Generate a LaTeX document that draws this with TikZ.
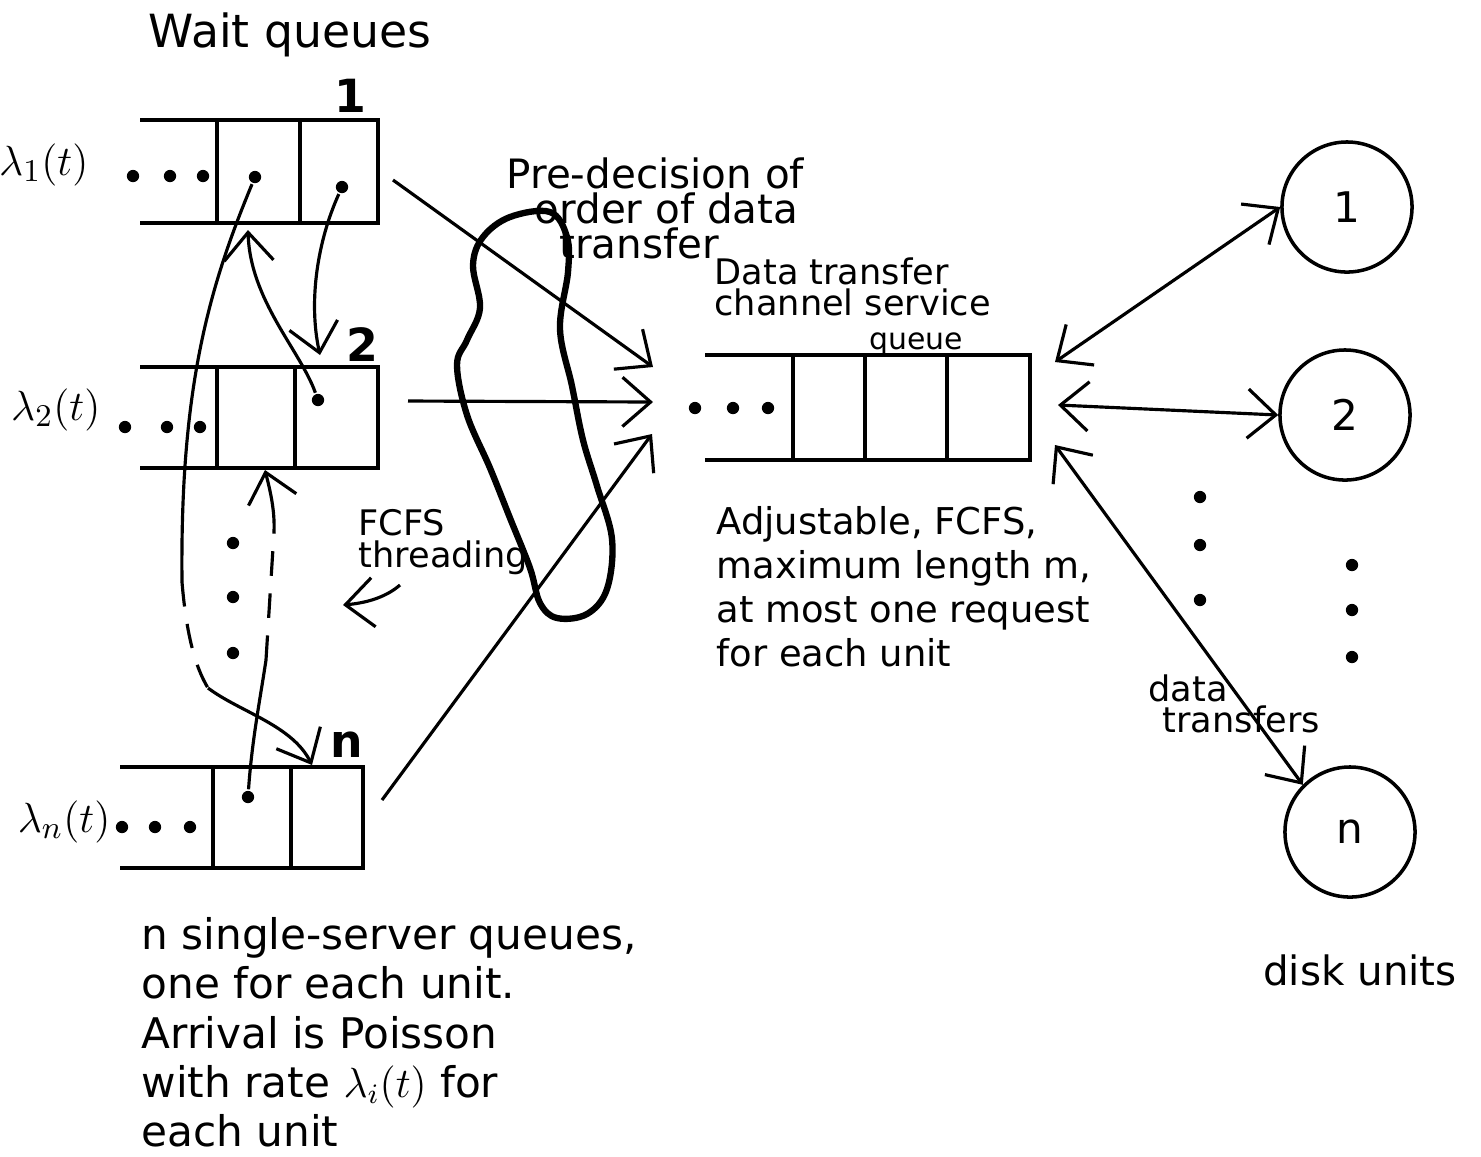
\documentclass[tikz,border=0pt]{standalone}
\usepackage{fontspec}
\setmainfont{DejaVu Sans}
\usepackage{amsmath}
\usetikzlibrary{arrows.meta}

\begin{document}
\begin{tikzpicture}[x=0.01cm, y=-0.01cm, line width=0.9pt,
    txt/.style={font=\fontsize{10.5}{12.5}\selectfont, inner sep=0pt},
    arr/.style={-{Straight Barb[length=8pt,width=14pt]}},
    dbl/.style={{Straight Barb[length=8pt,width=14pt]}-{Straight Barb[length=8pt,width=14pt]}},
    blob/.style={circle, fill, inner sep=0pt, minimum size=3.5pt},
    disk/.style={draw, circle, minimum size=1.3cm, line width=1pt, font=\fontsize{12}{14}\selectfont}]

    \useasboundingbox (0,0) rectangle (1481,1156);

    \node[txt, font=\fontsize{13}{15}\selectfont] (wq) at (290,35) {Wait queues};

    % queue 1
    \draw (140,120) -- (378,120) -- (378,223) -- (140,223);
    \draw (217,120) -- (217,223);
    \draw (300,120) -- (300,223);
    \node[txt, font=\fontsize{13}{15}\selectfont\bfseries] (n1) at (350,100) {\underline{1}};
    \node[txt, anchor=east, font=\fontsize{13}{15}\selectfont] (lam1) at (90,165) {$\lambda_1(t)$};
    \node[blob] at (133,176) {};
    \node[blob] at (170,176) {};
    \node[blob] at (203,176) {};
    \node[blob] (q1a) at (255,177) {};
    \node[blob] (q1b) at (342,187) {};
    \coordinate (q1in) at (248,230);
    \coordinate (q1out) at (393,180);

    % queue 2
    \draw (140,367) -- (378,367) -- (378,468) -- (140,468);
    \draw (217,367) -- (217,468);
    \draw (295,367) -- (295,468);
    \node[txt, font=\fontsize{13}{15}\selectfont\bfseries] (n2) at (362,345) {2};
    \node[txt, anchor=east, font=\fontsize{13}{15}\selectfont] (lam2) at (102,410) {$\lambda_2(t)$};
    \node[blob] at (125,427) {};
    \node[blob] at (167,427) {};
    \node[blob] at (200,427) {};
    \node[blob] (q2b) at (318,400) {};
    \coordinate (q2in) at (265,470);
    \coordinate (q2top) at (320,355);
    \coordinate (q2out) at (408,401);

    % queue n
    \draw (120,767) -- (363,767) -- (363,868) -- (120,868);
    \draw (213,767) -- (213,868);
    \draw (291,767) -- (291,868);
    \node[txt, font=\fontsize{13}{15}\selectfont\bfseries] (nn) at (347,745) {n};
    \node[txt, anchor=east, font=\fontsize{13}{15}\selectfont] (lamn) at (112,822) {$\lambda_n(t)$};
    \node[blob] at (122,827) {};
    \node[blob] at (155,827) {};
    \node[blob] at (190,827) {};
    \node[blob] (qna) at (248,797) {};
    \coordinate (qntop) at (312,765);
    \coordinate (qnout) at (382,800);

    \node[blob] at (233,543) {};
    \node[blob] at (233,597) {};
    \node[blob] at (233,653) {};

    % threading
    \coordinate (t1a) at (182,582);
    \coordinate (t1b) at (208,688);
    \draw (q1a) .. controls (208,290) and (180,390) .. (t1a);
    \draw[dash pattern=on 7pt off 5pt] (t1a) .. controls (186,630) and (194,665) .. (t1b);
    \draw[arr] (t1b) .. controls (240,712) and (292,725) .. (qntop);
    \draw[arr] (q1b) .. controls (318,240) and (308,300) .. (q2top);
    \draw[arr] (q2b) .. controls (300,350) and (250,300) .. (q1in);
    \coordinate (t4a) at (266,660);
    \coordinate (t4b) at (274,532);
    \draw (qna) .. controls (252,740) and (260,700) .. (t4a);
    \draw[dash pattern=on 7pt off 5pt] (t4a) -- (t4b);
    \draw[arr] (t4b) .. controls (275,510) and (270,490) .. (q2in);

    \node[txt, align=left, anchor=north west, font=\fontsize{10}{9}\selectfont] (fcfs) at (357,508) {FCFS\\threading};
    \coordinate (fcfsa) at (400,585);
    \coordinate (fcfsb) at (343,605);
    \draw[arr] (fcfsa) .. controls (385,598) and (365,603) .. (fcfsb);

    % pre-decision
    \draw[line width=1.8pt] plot[smooth cycle, tension=0.6] coordinates {
        (550,212) (567,237) (568,272) (560,329) (572,386) (583,440)
        (597,486) (612,539) (607,589) (587,614) (557,618) (540,603)
        (530,568) (510,518) (490,468) (467,415) (457,365) (467,340)
        (480,308) (473,265) (483,237) (510,217)};
    \node[txt, align=left, anchor=north west, font=\fontsize{11.5}{10}\selectfont] (pre) at (505,156)
        {Pre-decision of\\\hspace{8pt}order of data\\\hspace{15pt}transfer};

    % channel queue
    \draw (705,355) -- (1030,355) -- (1030,460) -- (705,460);
    \draw (793,355) -- (793,460);
    \draw (865,355) -- (865,460);
    \draw (947,355) -- (947,460);
    \node[blob] at (695,408) {};
    \node[blob] at (733,408) {};
    \node[blob] at (768,408) {};
    \node[txt, align=left, anchor=north west, font=\fontsize{10}{8.8}\selectfont] (cqt) at (713,256)
        {Data transfer\\channel service\\[1pt]\hspace{44pt}{\fontsize{8.5}{8.5}\selectfont queue}};
    \coordinate (cq1) at (653,367);
    \coordinate (cq2) at (653,402);
    \coordinate (cq3) at (652,434);
    \coordinate (cqo1) at (1055,362);
    \coordinate (cqo2) at (1058,405);
    \coordinate (cqo3) at (1055,445);
    \node[txt, align=left, anchor=north west, font=\fontsize{10.5}{12.5}\selectfont] (adj) at (715,505)
        {Adjustable, FCFS,\\maximum length m,\\at most one request\\for each unit};

    \draw[arr] (q1out) -- (cq1);
    \draw[arr] (q2out) -- (cq2);
    \draw[arr] (qnout) -- (cq3);

    % disk units
    \node[disk] (d1) at (1347,207) {1};
    \node[disk] (d2) at (1345,415) {2};
    \node[disk] (dn) at (1350,832) {n};
    \node[blob] at (1200,497) {};
    \node[blob] at (1200,545) {};
    \node[blob] at (1200,600) {};
    \node[blob] at (1352,565) {};
    \node[blob] at (1352,610) {};
    \node[blob] at (1352,657) {};

    \draw[dbl] (cqo1) -- (d1.west);
    \draw[dbl] (cqo2) -- (d2.west);
    \draw[dbl] (cqo3) -- (dn.north west);

    \node[txt, align=left, anchor=north west, font=\fontsize{10}{9}\selectfont] (dt) at (1147,673) {data\\\hspace{4pt}transfers};
    \node[txt, font=\fontsize{11.5}{13}\selectfont] (du) at (1360,970) {disk units};

    \node[txt, align=left, anchor=north west, font=\fontsize{12}{14}\selectfont] (note) at (140,916)
        {n single-server queues,\\one for each unit.\\Arrival is Poisson\\with rate $\lambda_i(t)$ for\\each unit};
\end{tikzpicture}
\end{document}
